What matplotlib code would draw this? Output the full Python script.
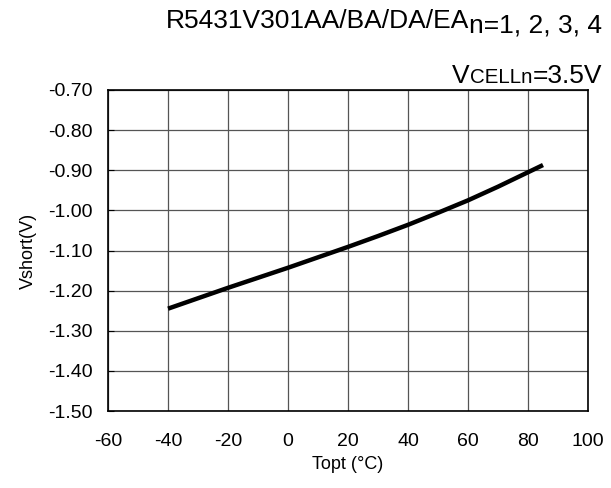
import numpy as np
import matplotlib
matplotlib.use("Agg")
from matplotlib import pyplot as plt

plt.rcParams['font.family'] = ['Liberation Sans', 'DejaVu Sans']
plt.rcParams['axes.unicode_minus'] = False

# data
topt = [-40, -30, -20, -10, 0, 10, 20, 30, 40, 50, 60, 70, 80, 85]
vshort = [-1.245, -1.219, -1.193, -1.168, -1.143, -1.117, -1.091, -1.064,
          -1.036, -1.006, -0.975, -0.941, -0.905, -0.887]

xticks = [-60, -40, -20, 0, 20, 40, 60, 80, 100]
yticks = [-1.50, -1.40, -1.30, -1.20, -1.10, -1.00, -0.90, -0.80, -0.70]

fig = plt.figure(figsize=(6.11, 4.88), dpi=100)
ax = fig.add_axes([108/611, 77/488, 480/611, 321/488])

ax.plot(topt, vshort, color="black", lw=3.2, solid_capstyle="butt",
        solid_joinstyle="round")
ax.set_xlim(-60, 100)
ax.set_ylim(-1.50, -0.70)
ax.set_xticks(xticks)
ax.set_yticks(yticks)
ax.set_yticklabels(["%.2f" % v for v in yticks])
ax.grid(True, color="#555555", lw=0.9)
ax.tick_params(axis="y", direction="in", length=4, labelsize=14, pad=11)
ax.tick_params(axis="x", length=0, labelsize=14, pad=16)
for s in ax.spines.values():
    s.set_linewidth(1.2)
ax.set_xlabel("Topt (°C)", fontsize=13, labelpad=4)
ax.set_ylabel("Vshort(V)", fontsize=13, labelpad=8)

# header text pieces, laid out right to left
fig.canvas.draw()
r = fig.canvas.get_renderer()


def place(pieces, x_right, y_base):
    x = x_right
    for txt, size, dy in reversed(pieces):
        t = fig.text(x / 611, 1 - (y_base + dy) / 488, txt, fontsize=size,
                     ha="right", va="baseline")
        x -= t.get_window_extent(r).width


place([("R5431V301AA/BA/DA/EA", 19, 0), ("n=1, 2, 3, 4", 19, 5)], 602, 28)
place([("V", 19, 0), ("CELLn", 14.8, 0), ("=3.5V", 19, 0)], 602, 83)

fig.savefig("out.png", dpi=100)
